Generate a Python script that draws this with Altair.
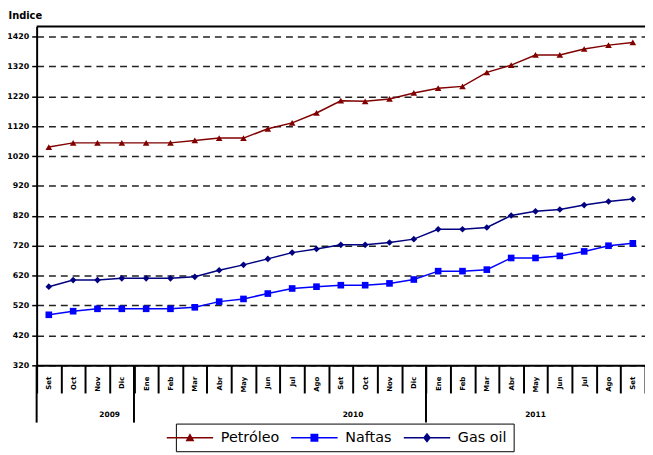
import altair as alt
import pandas as pd

months = ["Set", "Oct", "Nov", "Dic",
          "Ene", "Feb", "Mar", "Abr", "May", "Jun", "Jul", "Ago", "Set", "Oct", "Nov", "Dic",
          "Ene", "Feb", "Mar", "Abr", "May", "Jun", "Jul", "Ago", "Set"]
years = ["2009"] * 4 + ["2010"] * 12 + ["2011"] * 9

petroleo = [1050, 1064, 1064, 1064, 1064, 1064, 1072, 1080, 1080, 1111, 1131, 1164, 1205,
            1203, 1211, 1231, 1247, 1253, 1300, 1324, 1358, 1358, 1378, 1391, 1400]
naftas = [489, 501, 509, 509, 509, 509, 514, 533, 542, 560, 577, 583, 588,
          588, 594, 607, 635, 635, 640, 679, 679, 686, 701, 720, 728]
gasoil = [583, 605, 605, 611, 611, 611, 616, 638, 656, 676, 697, 709, 723,
          723, 731, 742, 775, 775, 781, 821, 835, 841, 856, 868, 876]

series_names = ["Petróleo", "Naftas", "Gas oil"]
series_colors = ["#800000", "#0000FF", "#000080"]
series_shapes = ["triangle-up", "square", "diamond"]
y_ticks = list(range(320, 1421, 100))

year_labels = ["2009", "2010", "2011"]
year_center_keys = ["Nov 2009", "Oct 2010", "May 2011"]
year_center_band = [1, 0, 0.5]
year_start_keys = ["Set 2009", "Ene 2010", "Ene 2011"]

keys = [f"{m} {y}" for m, y in zip(months, years)]

rows = []
for name, vals in zip(series_names, [petroleo, naftas, gasoil]):
    for k, v in zip(keys, vals):
        rows.append({"key": k, "series": name, "value": v})
df = pd.DataFrame(rows)

FONT = "DejaVu Sans"
W = 616

xscale = alt.Scale(domain=keys, paddingInner=0, paddingOuter=0)
x_axis = alt.Axis(
    labelExpr="isValid(datum.value) && datum.value ? split(datum.value, ' ')[0] : ''",
    labelAngle=270, labelAlign="right",
    labelBaseline="middle", labelFont=FONT, labelFontWeight="bold", labelFontSize=7,
    labelColor="black", labelPadding=-17, labelOverlap=False,
    tickBand="extent", tickSize=28, tickWidth=2, tickColor="black",
    domainColor="black", domainWidth=2, grid=False,
)
y_axis = alt.Axis(
    values=y_ticks, tickCount=12, format="d", grid=True, gridDash=[7, 5], gridColor="#222",
    gridWidth=1.5, tickSize=5, tickColor="black", tickWidth=1.5,
    domainColor="black", domainWidth=2, labelOverlap=False,
    labelFont=FONT, labelFontWeight="bold", labelFontSize=8, labelColor="black",
    labelPadding=3,
    title="Indice", titleAngle=0, titleAlign="left", titleBaseline="alphabetic",
    titleX=-29, titleY=-8, titleFont=FONT, titleFontSize=10, titleFontWeight="bold",
    titleColor="black",
)
yscale = alt.Scale(domain=[320, 1453], nice=False, zero=False)

def x_enc():
    return alt.X("key:N", scale=xscale, title=None, axis=x_axis)

def y_enc():
    return alt.Y("value:Q", scale=yscale, title="Indice", axis=y_axis)

color_scale = alt.Scale(domain=series_names, range=series_colors)

# legend symbols: line with the series marker in the middle (unit = 6 px)
LINE = "M-3.917,-0.125H3.917V0.125H-3.917Z"
tri = LINE + " M-0.75,0.58L0,-0.75L0.75,0.58Z"
sq = LINE + " M-0.667,-0.667H0.667V0.667H-0.667Z"
dia = LINE + " M0,-0.833L0.667,0L0,0.833L-0.667,0Z"
sym_expr = (f"datum.value == '{series_names[0]}' ? '{tri}' : "
            f"datum.value == '{series_names[1]}' ? '{sq}' : '{dia}'")

legend = alt.Legend(
    title=None, orient="none", legendX=141, legendY=402, direction="horizontal",
    symbolType={"expr": sym_expr}, symbolSize=144, symbolStrokeWidth=0,
    symbolOpacity=1, symbolFillColor={"expr": "scale('color', datum.value)"},
    labelFont=FONT, labelFontSize=14.5, labelColor="black", labelOffset=24,
    columnPadding=11, padding=7, strokeColor="black", fillColor="white",
)

base = alt.Chart(df)

lines = base.mark_line(strokeWidth=1.5).encode(
    x=x_enc(), y=y_enc(),
    color=alt.Color("series:N", scale=color_scale, legend=legend),
)

point_layers = []
for name, col, shp in zip(series_names, series_colors, series_shapes):
    point_layers.append(
        base.transform_filter(alt.datum.series == name).mark_point(
            filled=True, size=45, opacity=1, shape=shp, color=col
        ).encode(x=x_enc(), y=y_enc())
    )

top_rule = alt.Chart(pd.DataFrame({"a": [0]})).mark_rule(color="black", strokeWidth=2).encode(
    y=alt.value(0), x=alt.value(0), x2=alt.value(W)
)

sep = alt.Chart(pd.DataFrame({"key": year_start_keys})).mark_rule(
    color="black", strokeWidth=2
).encode(
    x=alt.X("key:N", bandPosition=0, scale=xscale, title=None, axis=x_axis),
    y=alt.value(343), y2=alt.value(401)
)

year_layers = []
for lab, k, bp in zip(year_labels, year_center_keys, year_center_band):
    year_layers.append(
        alt.Chart(pd.DataFrame({"key": [k], "label": [lab]})).mark_text(
            font=FONT, fontWeight="bold", fontSize=7.5, baseline="middle", color="black"
        ).encode(x=alt.X("key:N", bandPosition=bp, scale=xscale, title=None, axis=x_axis),
                 y=alt.value(393), text="label:N")
    )

chart = alt.layer(lines, *point_layers, top_rule, sep, *year_layers).properties(
    width=W, height=343,
    autosize=alt.AutoSizeParams(type="none"),
    padding={"left": 29, "top": 16, "right": 0, "bottom": 88},
    background="white",
).configure_view(stroke=None)

chart.save("out.html", embed_options={"renderer": "svg", "actions": False})
